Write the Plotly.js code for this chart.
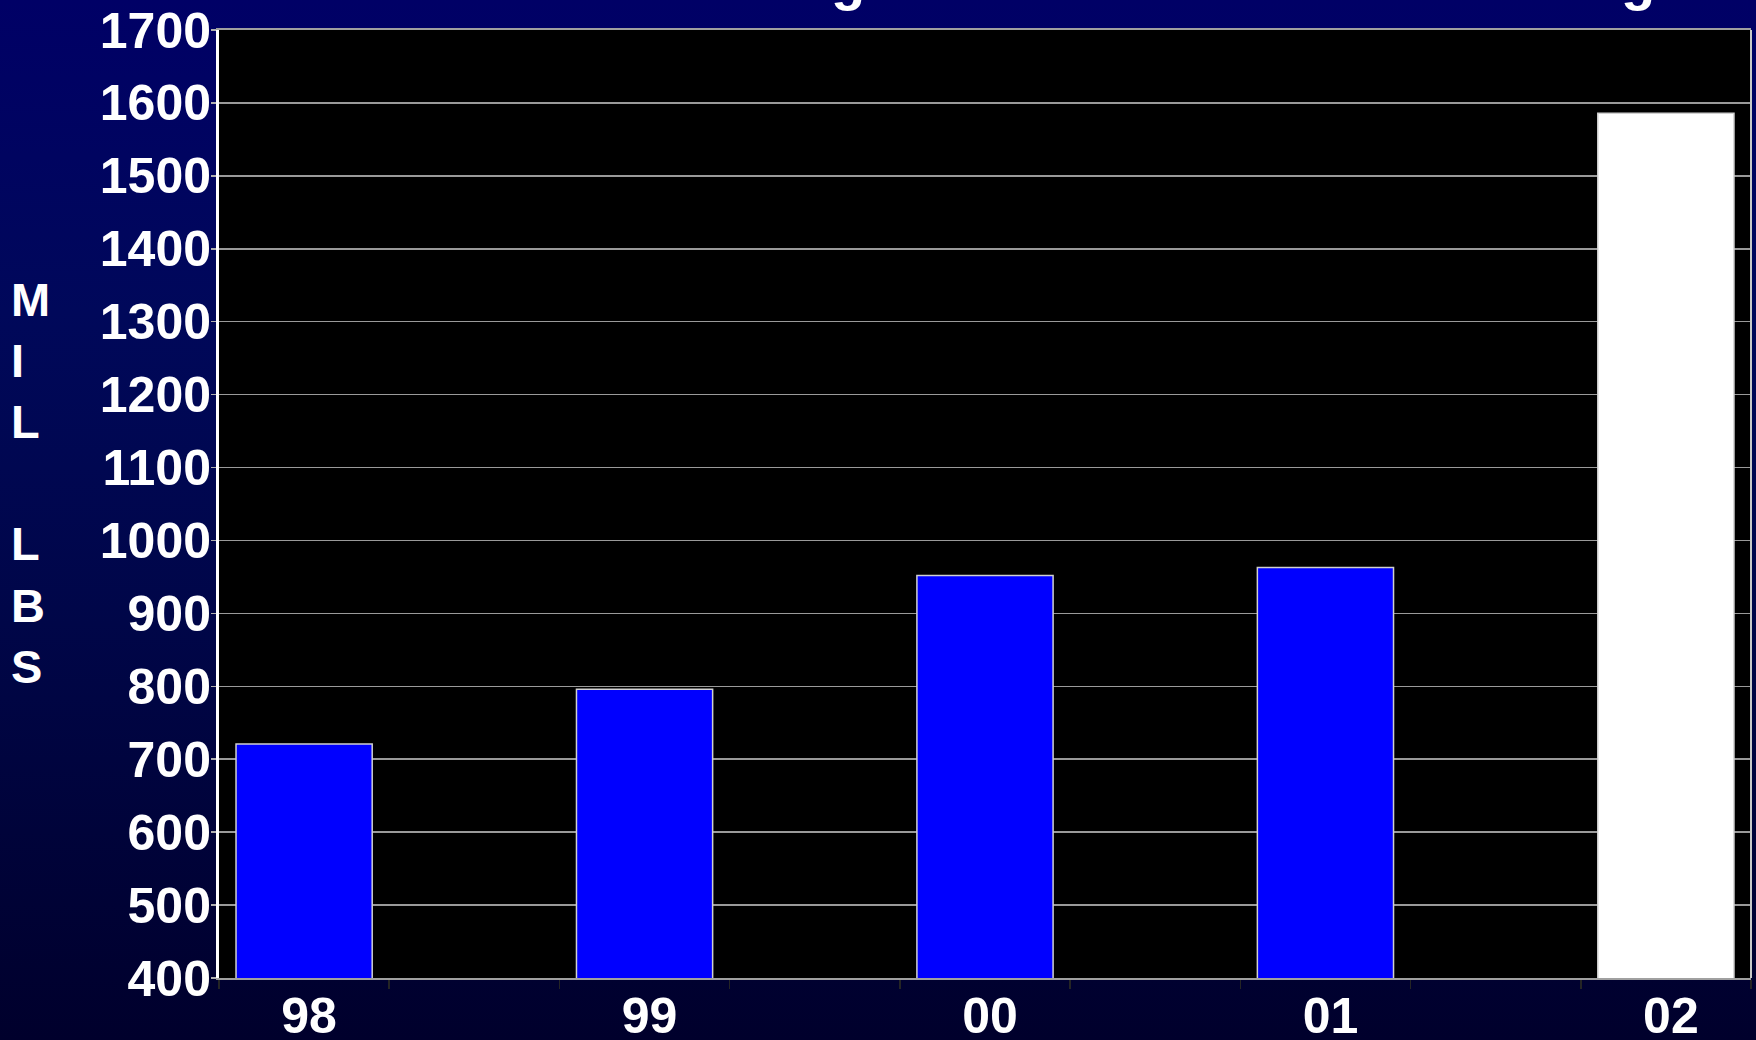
<!DOCTYPE html>
<html>
<head>
<meta charset="utf-8">
<script src="https://cdn.plot.ly/plotly-3.0.1.min.js"></script>
<style>
  html, body { margin:0; padding:0; width:1756px; height:1040px; overflow:hidden;
    background: linear-gradient(to bottom, #000066 0%, #00085a 30%, #000648 60%, #00002c 100%); }
  #chart { width:1756px; height:1040px; }
</style>
</head>
<body>
<div id="chart"></div>
<script>
const categories = ["98", "99", "00", "01", "02"];
const values = [721, 796, 952, 963, 1586];
const barColors = ["#0000ff", "#0000ff", "#0000ff", "#0000ff", "#ffffff"];
const yTicks = [400, 500, 600, 700, 800, 900, 1000, 1100, 1200, 1300, 1400, 1500, 1600, 1700];
const yLabel = "M<br>I<br>L<br><br>L<br>B<br>S";

const xIdx = categories.map((c, i) => i);
const font = "Liberation Sans, Arial, sans-serif";

const trace = {
  type: "bar",
  x: xIdx,
  y: values,
  base: 0,
  width: 0.4,
  marker: { color: barColors, line: { color: "#d0d0d0", width: 1.5 } },
  hoverinfo: "skip"
};

const layout = {
  width: 1756, height: 1040,
  margin: { l: 219, r: 5, t: 30, b: 62 },
  paper_bgcolor: "rgba(0,0,0,0)",
  plot_bgcolor: "#000000",
  showlegend: false,
  font: { family: font, color: "#ffffff" },
  xaxis: {
    type: "linear",
    range: [-0.25, 4.25],
    tickmode: "array",
    tickvals: xIdx,
    ticktext: categories,
    ticks: "",
    ticklabelstandoff: -7,
    ticklabelshift: 5,
    tickfont: { size: 50, family: font, color: "#ffffff", weight: "bold" },
    showgrid: false,
    zeroline: false,
    showline: true, linecolor: "#a0a0a0", linewidth: 2, mirror: true,
    minor: { tickmode: "linear", tick0: -0.25, dtick: 0.5, ticks: "outside", ticklen: 9, tickwidth: 1.5, tickcolor: "#252525", showgrid: false },
    fixedrange: true
  },
  yaxis: {
    range: [400, 1700],
    tickmode: "array",
    tickvals: yTicks,
    ticktext: yTicks.map(String),
    ticks: "outside", ticklen: 5, tickwidth: 1.5, tickcolor: "#b0b0b0",
    ticklabelstandoff: -10,
    tickfont: { size: 50, family: font, color: "#ffffff", weight: "bold" },
    showgrid: true, gridcolor: "#9a9a9a", gridwidth: 1.5,
    zeroline: false,
    showline: true, linecolor: "#ffffff", linewidth: 3,
    fixedrange: true
  },
  shapes: [
    { type: "line", xref: "paper", yref: "paper", x0: 1, x1: 1, y0: 0, y1: 1,
      line: { color: "#c8c8c8", width: 2 } }
  ],
  annotations: [
    { text: yLabel, xref: "paper", yref: "paper", x: -0.137, y: 0.522,
      xanchor: "left", yanchor: "middle", align: "left", showarrow: false,
      font: { size: 47, family: font, color: "#ffffff", weight: "bold" } },
    { text: "g", xref: "paper", yref: "paper", x: 0.4106, y: 1.018,
      xanchor: "center", yanchor: "bottom", showarrow: false,
      font: { size: 56, family: font, color: "#ffffff", weight: "bold" } },
    { text: "g", xref: "paper", yref: "paper", x: 0.926, y: 1.018,
      xanchor: "center", yanchor: "bottom", showarrow: false,
      font: { size: 56, family: font, color: "#ffffff", weight: "bold" } }
  ]
};

Plotly.newPlot("chart", [trace], layout, { displayModeBar: false, staticPlot: true });
</script>
</body>
</html>
